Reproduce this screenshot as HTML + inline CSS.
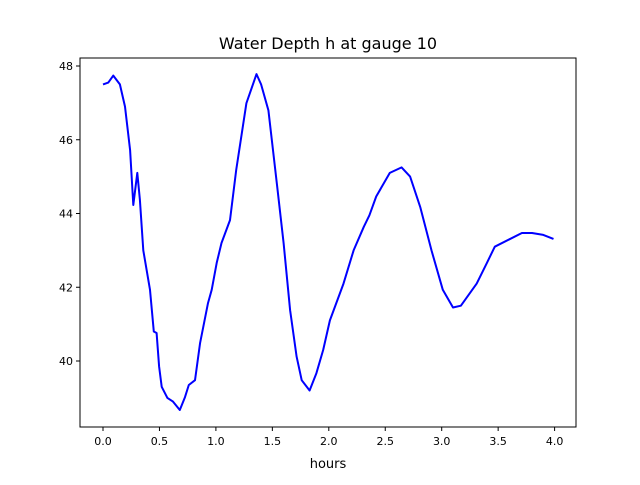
<!DOCTYPE html>
<html><head><meta charset="utf-8"><style>
body{margin:0;background:#fff;font-family:"Liberation Sans","DejaVu Sans",sans-serif}
text{font-family:"DejaVu Sans","Liberation Sans",sans-serif}
</style></head><body>
<svg id="chart" width="640" height="480" viewBox="0 0 640 480" xmlns="http://www.w3.org/2000/svg">
<rect width="640" height="480" fill="#fff"/>
<text x="328" y="49" font-size="16" text-anchor="middle">Water Depth h at gauge 10</text>
<g id="plot"></g>
<text x="328" y="468" font-size="13" text-anchor="middle">hours</text>
</svg>
<script>
const hours=[0,0.047,0.091,0.15,0.195,0.24,0.268,0.283,0.304,0.327,0.357,0.416,0.45,0.475,0.497,0.52,0.57,0.62,0.68,0.726,0.76,0.815,0.86,0.93,0.963,1.007,1.05,1.125,1.18,1.27,1.36,1.40,1.465,1.54,1.6,1.657,1.715,1.76,1.83,1.89,1.95,2.01,2.13,2.22,2.31,2.36,2.42,2.54,2.645,2.72,2.81,2.91,3.01,3.10,3.17,3.31,3.40,3.47,3.60,3.71,3.80,3.90,3.99];
const depth=[47.5,47.55,47.74,47.5,46.9,45.72,44.23,44.6,45.1,44.37,43.0,41.93,40.8,40.76,39.85,39.3,39.0,38.9,38.67,39.02,39.35,39.48,40.49,41.57,41.93,42.66,43.2,43.82,45.18,46.99,47.78,47.5,46.8,44.8,43.2,41.38,40.12,39.48,39.2,39.67,40.3,41.1,42.1,43.0,43.64,43.95,44.46,45.1,45.25,45.0,44.18,43.0,41.93,41.45,41.5,42.1,42.66,43.1,43.3,43.47,43.47,43.42,43.31];
const xTicks=[0,0.5,1,1.5,2,2.5,3,3.5,4];
const xTickLabels=["0.0","0.5","1.0","1.5","2.0","2.5","3.0","3.5","4.0"];
const yTicks=[40,42,44,46,48];
const yTickLabels=["40","42","44","46","48"];
const L=80,R=576,T=58,B=427;
const X=v=>103+v*112.9;
const Y=v=>66+(48-v)*36.875;
const NS="http://www.w3.org/2000/svg";
const g=document.getElementById('plot');
function mk(t,a){const e=document.createElementNS(NS,t);for(const k in a)e.setAttribute(k,a[k]);g.appendChild(e);return e;}
let d="";hours.forEach((h,i)=>{d+=(i?"L":"M")+X(h).toFixed(1)+","+Y(depth[i]).toFixed(1);});
const line=mk('path',{d:d,fill:'none',stroke:'#0000ff','stroke-width':2,'stroke-linejoin':'round'});


xTicks.forEach((v,i)=>{
 const tk=mk('line',{x1:X(v),x2:X(v),y1:B,y2:B+4,stroke:'#000'});
 
 
 const t=mk('text',{x:X(v),y:B+18,'font-size':11,'text-anchor':'middle'});t.textContent=xTickLabels[i];
 
 
});
yTicks.forEach((v,i)=>{
 const tk=mk('line',{x1:L-4,x2:L,y1:Y(v),y2:Y(v),stroke:'#000'});
 
 
 const t=mk('text',{x:L-7,y:Y(v)+4,'font-size':11,'text-anchor':'end'});t.textContent=yTickLabels[i];
 
 
});
const fr=mk('rect',{x:L,y:T,width:R-L,height:B-T,fill:'none',stroke:'#000','stroke-width':1});


</script>
</body></html>
